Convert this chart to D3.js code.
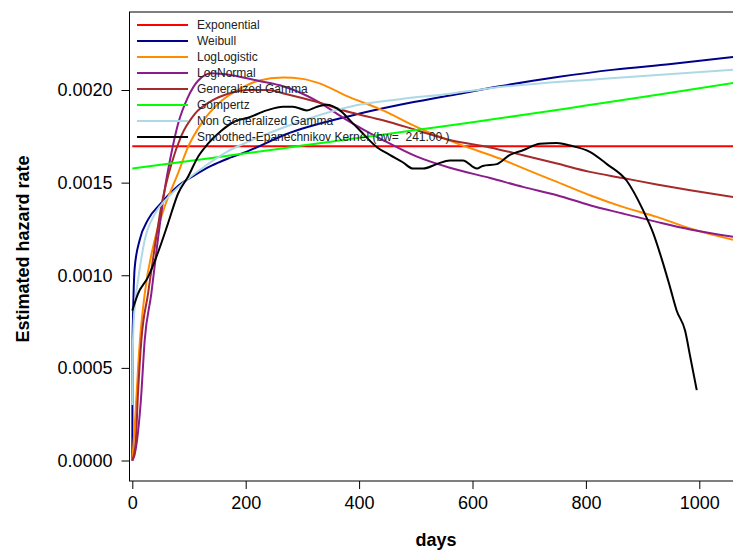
<!DOCTYPE html>
<html>
<head>
<meta charset="utf-8">
<script src="https://cdn.jsdelivr.net/npm/d3@7"></script>
<style>
  html, body { margin: 0; padding: 0; background: #fff; }
  svg { display: block; font-family: "Liberation Sans", Arial, sans-serif; }
</style>
</head>
<body>
<svg id="chart" width="733" height="556"></svg>
<script>
// ---- data (days, estimated hazard rate) ----
const xTicks = [0, 200, 400, 600, 800, 1000];
const yTicks = [0, 0.0005, 0.0010, 0.0015, 0.0020];
const yTickLabels = ["0.0000", "0.0005", "0.0010", "0.0015", "0.0020"];

const seriesNames = ["Exponential", "Weibull", "LogLogistic", "LogNormal",
  "Generalized Gamma", "Gompertz", "Non Generalized Gamma",
  "Smoothed-Epanechnikov Kernel (bw=  241.00 )"];
const seriesColors = ["#ff0000", "#00008b", "#ff8c00", "#8b1c8b",
  "#a52a2a", "#00ff00", "#add8e6", "#000000"];

const exponential = [[0, 0.001696], [1100, 0.001696]];
const weibull = [[0,0],[0.5,0.00066],[1,0.00074],[4.2,0.00104],[13,0.00119],[27.7,0.0013],[51,0.00139],[80,0.00148],[110,0.00154],[139,0.00159],[169,0.00163],[204,0.00167],[270,0.00176],[384,0.00186],[472,0.00192],[560,0.00197],[648,0.00202],[750,0.00207],[850,0.00211],[950,0.00214],[1065,0.00218]];
const logLogistic = [[0,0],[5,0.00022],[10.6,0.00052],[13,0.00063],[21.9,0.0009],[39.5,0.00119],[57,0.00137],[80.6,0.00155],[98,0.00169],[122,0.00182],[157,0.00194],[192,0.00201],[222,0.00205],[266,0.002068],[300,0.00206],[326,0.00204],[384,0.00196],[442,0.00189],[502,0.0018],[583,0.0017],[648,0.00163],[689,0.001578],[749,0.001504],[807,0.001432],[865,0.001369],[925,0.001315],[984,0.001252],[1065,0.001188]];
const logNormal = [[0,0],[4,0.00003],[8,0.0001],[15,0.00032],[21.9,0.00065],[33.5,0.0009],[45,0.00119],[57,0.00146],[69,0.00166],[81,0.00182],[98,0.00196],[116,0.00205],[140,0.00209],[175,0.00208],[222,0.00205],[266,0.00202],[326,0.00194],[372,0.00185],[442,0.00173],[502,0.00164],[560,0.00158],[631,0.001525],[689,0.001477],[749,0.001432],[807,0.001378],[865,0.001333],[925,0.001288],[984,0.001247],[1065,0.001205]];
const genGamma = [[0,0],[6,0.0001],[10,0.00036],[16,0.00065],[27.7,0.0009],[39.5,0.00115],[51,0.00137],[69,0.0016],[86,0.00175],[110,0.00187],[139,0.00194],[169,0.00198],[204,0.002],[240,0.002],[269,0.00198],[326,0.001935],[384,0.00188],[442,0.001837],[502,0.001783],[560,0.00173],[631,0.00169],[689,0.001648],[749,0.001603],[807,0.001558],[865,0.001525],[925,0.00149],[984,0.001459],[1065,0.00142]];
const gompertz = [[0,0.001576],[100,0.001617],[200,0.001658],[300,0.0017],[400,0.001742],[500,0.001784],[600,0.001826],[700,0.00187],[800,0.001916],[900,0.001962],[1000,0.00201],[1065,0.00204]];
const nonGenGamma = [[0,0.0003],[0.5,0.0005],[2,0.00072],[5,0.00085],[10,0.00097],[21.9,0.00119],[39.5,0.00133],[63,0.00142],[98,0.00152],[133.5,0.0016],[169,0.00167],[204,0.00172],[269,0.0018],[384,0.00191],[472,0.00195],[560,0.00198],[631,0.00201],[825,0.00206],[1065,0.00211]];
const kernel = [[0,0.00081],[10,0.0009],[27.7,0.00099],[45,0.00112],[63,0.00128],[80.6,0.00144],[98,0.00153],[116,0.00164],[133.5,0.00171],[157,0.00178],[180.6,0.00183],[204,0.00185],[237,0.00189],[266,0.00191],[283,0.00191],[308,0.00189],[326,0.00191],[343,0.00192],[366,0.00189],[389,0.00182],[402,0.00178],[432,0.00169],[454,0.00165],[477,0.00161],[495,0.001576],[513,0.001576],[537,0.0016],[560,0.00162],[583,0.00162],[608,0.001576],[618,0.00159],[643,0.0016],[666,0.00165],[689,0.001675],[719,0.00171],[749,0.001714],[772,0.0017],[807,0.001666],[837,0.0016],[872,0.00151],[901,0.00135],[919,0.001225],[936.5,0.00106],[948,0.00094],[960,0.00081],[975,0.0007],[984,0.00056],[995.5,0.00038]];

const seriesData = [exponential, weibull, logLogistic, logNormal, genGamma, gompertz, nonGenGamma, kernel];

// ---- layout ----
const svg = d3.select("#chart");
const box = {left: 129.5, top: 12, bottom: 481, right: 760};
const x = d3.scaleLinear().domain([0, 1000]).range([132.3, 699.3]);
const y = d3.scaleLinear().domain([0, 0.002]).range([460.5, 90]);

svg.append("rect").attr("width", 733).attr("height", 556).attr("fill", "#fff");

svg.append("defs").append("clipPath").attr("id", "clip")
  .append("rect").attr("x", box.left).attr("y", box.top)
  .attr("width", box.right - box.left).attr("height", box.bottom - box.top);

// curves
const line = d3.line().x(d => x(d[0])).y(d => y(d[1])).curve(d3.curveMonotoneX);
const g = svg.append("g").attr("clip-path", "url(#clip)");
seriesData.forEach((s, i) => {
  g.append("path").datum(s)
    .attr("d", line)
    .attr("fill", "none")
    .attr("stroke", seriesColors[i])
    .attr("stroke-width", 2)
    .attr("stroke-linejoin", "round");
});

// box
svg.append("rect").attr("x", box.left).attr("y", box.top)
  .attr("width", box.right - box.left).attr("height", box.bottom - box.top)
  .attr("fill", "none").attr("stroke", "#000").attr("stroke-width", 1);

// x axis
const xAxis = d3.axisBottom(x).tickValues(xTicks).tickSize(8).tickPadding(7).tickFormat(d3.format("d"));
const gx = svg.append("g").attr("transform", `translate(0,${box.bottom})`).call(xAxis);
gx.select(".domain").remove();
gx.selectAll("text").attr("font-size", 18).attr("font-family", "Liberation Sans, Arial, sans-serif").attr("fill", "#000");

// y axis
const yAxis = d3.axisLeft(y).tickValues(yTicks).tickSize(8).tickPadding(9)
  .tickFormat((d, i) => yTickLabels[i]);
const gy = svg.append("g").attr("transform", `translate(${box.left},0)`).call(yAxis);
gy.select(".domain").remove();
gy.selectAll("text").attr("font-size", 18).attr("font-family", "Liberation Sans, Arial, sans-serif").attr("fill", "#000");

// axis titles
svg.append("text").attr("x", 436).attr("y", 546).attr("text-anchor", "middle")
  .attr("font-size", 18).attr("font-weight", "bold").text("days");
svg.append("text").attr("transform", "translate(23,249) rotate(-90)")
  .attr("text-anchor", "middle").attr("dominant-baseline", "central")
  .attr("font-size", 18).attr("font-weight", "bold").text("Estimated hazard rate");

// legend
const lg = svg.append("g");
seriesNames.forEach((name, i) => {
  const yy = 25 + i * 16;
  lg.append("line").attr("x1", 137).attr("x2", 188).attr("y1", yy).attr("y2", yy)
    .attr("stroke", seriesColors[i]).attr("stroke-width", 2);
  lg.append("text").attr("x", 197).attr("y", yy).attr("dy", "0.35em")
    .attr("font-size", 12).attr("fill", "#222").attr("xml:space", "preserve")
    .style("white-space", "pre").text(name);
});
</script>
</body>
</html>
